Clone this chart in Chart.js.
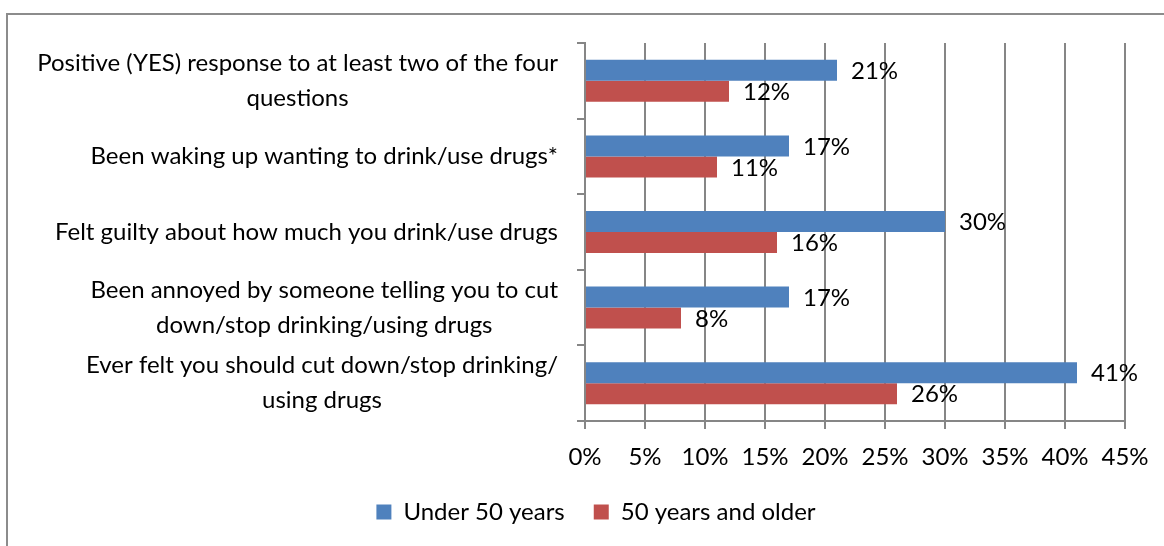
<!DOCTYPE html>
<html><head><meta charset="utf-8">
<script src="https://cdn.jsdelivr.net/npm/chart.js@4"></script>
<style>html,body{margin:0;padding:0;background:#fff}#wrap{width:1164px;height:546px}</style>
</head><body><div id="wrap"><canvas id="c" width="1164" height="546"></canvas></div>
<script>
const categories = [
  ["Positive (YES) response to at least two of the four", "questions"],
  ["Been waking up wanting to drink/use drugs*"],
  ["Felt guilty about how much you drink/use drugs"],
  ["Been annoyed by someone telling you to cut", "down/stop drinking/using drugs"],
  ["Ever felt you should cut down/stop drinking/", "using drugs"]
];
const seriesNames = ["Under 50 years", "50 years and older"];
const under50 = [21, 17, 30, 17, 41];
const over50 = [12, 11, 16, 8, 26];
const xMin = 0, xMax = 45, xStep = 5;

const FONT = "Lato, 'Liberation Sans', sans-serif";
const FS = 24;
const GRID = '#868686';

const framePlugin = {
  id: 'frame',
  beforeDraw(chart) {
    const ctx = chart.ctx;
    ctx.save();
    ctx.fillStyle = '#fff';
    ctx.fillRect(0, 0, chart.width, chart.height);
    ctx.strokeStyle = '#8c8c8c';
    ctx.lineWidth = 2;
    ctx.strokeRect(7, 14, chart.width + 20, chart.height + 20);
    ctx.restore();
  }
};

const yLabelPlugin = {
  id: 'yLabels',
  afterDraw(chart) {
    const ctx = chart.ctx;
    const ys = chart.scales.y;
    ctx.save();
    ctx.font = FS + 'px ' + FONT;
    ctx.fillStyle = '#000';
    ctx.textBaseline = 'middle';
    ctx.textAlign = 'center';
    const right = ys.right - 27;
    const lh = 35;
    categories.forEach((lines, i) => {
      const cy = ys.getPixelForValue(i);
      const w = Math.max(...lines.map(l => ctx.measureText(l).width));
      const cx = right - w / 2;
      const y0 = cy - (lines.length - 1) * lh / 2;
      lines.forEach((l, j) => ctx.fillText(l, cx, y0 + j * lh));
    });
    ctx.restore();
  }
};

const valuePlugin = {
  id: 'values',
  afterDatasetsDraw(chart) {
    const ctx = chart.ctx;
    ctx.save();
    ctx.font = FS + 'px ' + FONT;
    ctx.fillStyle = '#000';
    ctx.textBaseline = 'middle';
    ctx.textAlign = 'left';
    chart.data.datasets.forEach((ds, di) => {
      const meta = chart.getDatasetMeta(di);
      meta.data.forEach((el, i) => {
        ctx.fillText(ds.data[i] + '%', el.x + 14, el.y + 1);
      });
    });
    ctx.restore();
  }
};

new Chart(document.getElementById('c'), {
  type: 'bar',
  data: {
    labels: categories.map(c => c.join(' ')),
    datasets: [
      { label: seriesNames[0], data: under50, backgroundColor: '#4F81BD' },
      { label: seriesNames[1], data: over50, backgroundColor: '#C0504D' }
    ]
  },
  options: {
    indexAxis: 'y',
    responsive: false,
    animation: false,
    devicePixelRatio: 1,
    categoryPercentage: 0.555,
    barPercentage: 1.0,
    layout: { padding: { left: 67, right: 39, top: 43, bottom: 12 } },
    scales: {
      x: {
        min: xMin, max: xMax,
        ticks: {
          stepSize: xStep,
          color: '#000',
          font: { family: FONT, size: FS },
          padding: 14,
          callback: v => v + '%'
        },
        grid: { color: GRID, lineWidth: 2, tickLength: 8, drawTicks: true },
        border: { display: true, color: GRID, width: 2 },
        afterFit(s) { s.height = 50; }
      },
      y: {
        ticks: { display: false },
        grid: { color: GRID, lineWidth: 2, tickLength: 8, drawOnChartArea: false, offset: true },
        border: { display: true, color: GRID, width: 2 },
        afterFit(s) { s.width = 518; }
      }
    },
    plugins: {
      legend: {
        position: 'bottom',
        labels: {
          boxWidth: 15, boxHeight: 15, padding: 29,
          color: '#000',
          font: { family: FONT, size: FS }
        }
      },
      tooltip: { enabled: false }
    }
  },
  plugins: [framePlugin, yLabelPlugin, valuePlugin]
});
</script>
</body></html>
